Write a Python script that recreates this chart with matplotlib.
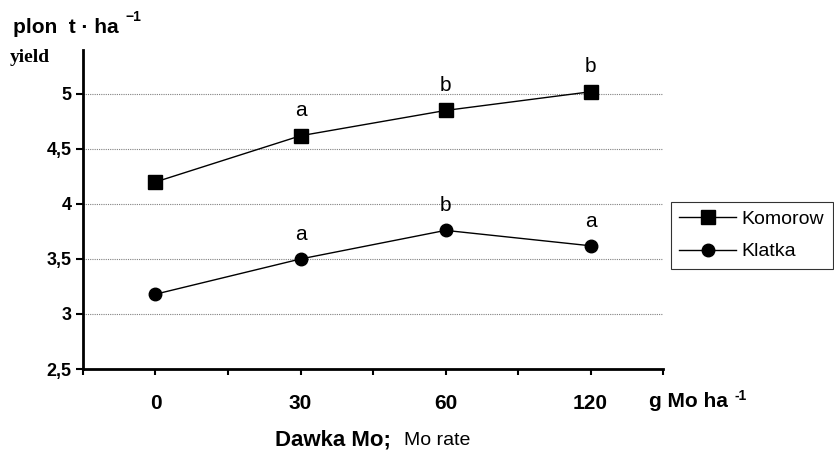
import matplotlib.pyplot as plt
import numpy as np

plt.rcParams['font.family'] = ['Liberation Sans', 'DejaVu Sans']

# dane
dawki = ['0', '30', '60', '120']
komorow = [4.20, 4.62, 4.85, 5.02]
klatka = [3.18, 3.50, 3.76, 3.62]
litery_komorow = ['', 'a', 'b', 'b']
litery_klatka = ['', 'a', 'b', 'a']
y_ticks = [2.5, 3, 3.5, 4, 4.5, 5]
y_labels = ['2,5', '3', '3,5', '4', '4,5', '5']

fig = plt.figure(figsize=(8.34, 4.5), dpi=100)
ax = fig.add_axes([0.0995, 0.18, 0.6955, 0.709])

x = np.arange(len(dawki))
ax.plot(x, komorow, color='black', lw=1, marker='s', ms=10, label='Komorow')
ax.plot(x, klatka, color='black', lw=1, marker='o', ms=9, label='Klatka')

# litery istotności
for xi, yi, t in zip(x, komorow, litery_komorow):
    if t:
        ax.annotate(t, (xi, yi), xytext=(0, 11), textcoords='offset points',
                    ha='center', va='bottom', fontsize=15)
for xi, yi, t in zip(x, klatka, litery_klatka):
    if t:
        ax.annotate(t, (xi, yi), xytext=(0, 11), textcoords='offset points',
                    ha='center', va='bottom', fontsize=15)

ax.set_xlim(-0.5, 3.5)
ax.set_ylim(2.5, 5.4)
ax.set_xticks(x)
ax.set_xticklabels(dawki, fontsize=15, fontweight='bold')
ax.set_xticks(np.arange(-0.5, 3.51, 1.0), minor=True)
ax.tick_params(axis='x', which='both', length=4, direction='out', width=1.5, pad=14)
ax.set_yticks(y_ticks)
ax.set_yticklabels(y_labels, fontsize=13, fontweight='bold')
ax.tick_params(axis='y', length=5, direction='out', width=1.5, pad=3)

for yv in y_ticks[1:]:
    ax.axhline(yv, color='gray', lw=0.8, ls=(0, (1, 1)), zorder=0)

ax.spines['top'].set_visible(False)
ax.spines['right'].set_visible(False)
ax.spines['left'].set_linewidth(2)
ax.spines['bottom'].set_linewidth(2)

fig.text(0.016, 0.926, 'plon  t \u00b7 ha', fontsize=15, fontweight='bold')
fig.text(0.150, 0.953, '\u22121', fontsize=10, fontweight='bold')
fig.text(0.012, 0.862, 'yield', fontsize=14, fontweight='bold', family='Liberation Serif')
fig.text(0.778, 0.095, 'g Mo ha', fontsize=15, fontweight='bold')
fig.text(0.881, 0.112, '-1', fontsize=10, fontweight='bold')
fig.text(0.33, 0.011, 'Dawka Mo;', fontsize=16, fontweight='bold')
fig.text(0.484, 0.011, 'Mo rate', fontsize=14)

leg = ax.legend(loc='upper left', bbox_to_anchor=(1.013, 0.524), frameon=True,
                fancybox=False, edgecolor='black', fontsize=14, handlelength=2.9,
                borderpad=0.45, labelspacing=0.75, handletextpad=0.3,
                borderaxespad=0)
leg.get_frame().set_linewidth(0.8)

plt.savefig('out.png')
